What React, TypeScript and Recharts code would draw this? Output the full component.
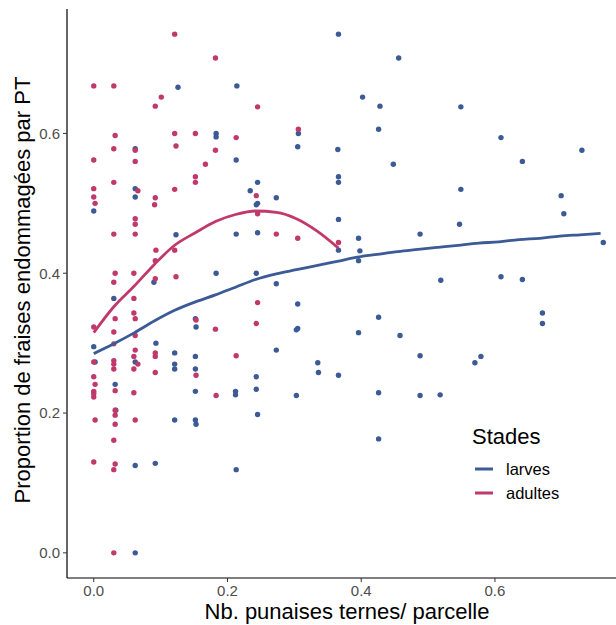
import React from 'react'
import { ComposedChart, Scatter, XAxis, YAxis } from 'recharts'

const BLUE = '#3B5A96'
const PINK = '#C1386B'
const FONT = '"Liberation Sans", Arial, sans-serif'

const X_TICKS = [0, 0.2, 0.4, 0.6]
const Y_TICKS = [0, 0.2, 0.4, 0.6]

// larves: nb. punaises / parcelle vs proportion endommagée
const larvesX = [
  0.126, 0.214, 0.183, 0.183, 0.062, 0.213, 0.062, 0.062, 0, 0.123,
  0.213, 0.183, 0.09, 0.03, 0.152, 0.153, 0, 0.093, 0.121, 0.152,
  0.002, 0.062, 0.121, 0.121, 0.152, 0.032, 0.152, 0.212, 0.212, 0.033,
  0.121, 0.152, 0.153, 0.062, 0.092, 0.213, 0.062, 0.366, 0.456, 0.402,
  0.428, 0.426, 0.306, 0.305, 0.365, 0.448, 0.366, 0.366, 0.245, 0.234,
  0.273, 0.243, 0.245, 0.366, 0.245, 0.396, 0.398, 0.366, 0.396, 0.488,
  0.243, 0.273, 0.305, 0.305, 0.303, 0.426, 0.396, 0.458, 0.273, 0.488,
  0.335, 0.336, 0.366, 0.243, 0.243, 0.303, 0.426, 0.488, 0.549, 0.609,
  0.73, 0.641, 0.549, 0.699, 0.703, 0.547, 0.762, 0.519, 0.609, 0.641,
  0.671, 0.671, 0.579, 0.57, 0.518, 0.245, 0.426,
]
const larvesY = [
  0.666, 0.668, 0.6, 0.595, 0.578, 0.562, 0.521, 0.509, 0.489, 0.455,
  0.456, 0.4, 0.387, 0.364, 0.335, 0.323, 0.295, 0.3, 0.286, 0.281,
  0.273, 0.273, 0.27, 0.263, 0.263, 0.241, 0.231, 0.231, 0.226, 0.204,
  0.19, 0.19, 0.184, 0.125, 0.128, 0.119, 0, 0.742, 0.708, 0.652,
  0.639, 0.606, 0.6, 0.581, 0.577, 0.556, 0.538, 0.53, 0.53, 0.518,
  0.508, 0.498, 0.5, 0.477, 0.458, 0.45, 0.432, 0.433, 0.418, 0.456,
  0.4, 0.385, 0.356, 0.321, 0.319, 0.337, 0.315, 0.311, 0.29, 0.282,
  0.272, 0.258, 0.254, 0.252, 0.234, 0.225, 0.229, 0.225, 0.638, 0.594,
  0.576, 0.56, 0.52, 0.511, 0.485, 0.47, 0.444, 0.39, 0.395, 0.391,
  0.343, 0.328, 0.281, 0.272, 0.226, 0.198, 0.163,
]

// adultes
const adultesX = [
  0.121, 0.182, 0, 0.03, 0.101, 0.092, 0.032, 0.03, 0.062, 0.121,
  0.152, 0.213, 0.123, 0.182, 0, 0.062, 0.167, 0.152, 0.152, 0.03,
  0, 0.066, 0.121, 0, 0.092, 0.002, 0.091, 0.03, 0.062, 0.062,
  0.062, 0.093, 0.121, 0.092, 0.032, 0.06, 0.092, 0.03, 0.123, 0.06,
  0.032, 0.06, 0.062, 0.153, 0.182, 0, 0.03, 0.062, 0.03, 0.062,
  0.06, 0.092, 0.092, 0.213, 0, 0.066, 0.03, 0.03, 0.03, 0.06,
  0.153, 0.092, 0, 0.002, 0, 0, 0, 0.032, 0.06, 0.183,
  0.032, 0.032, 0.002, 0.032, 0.062, 0.03, 0, 0.032, 0.03, 0.03,
  0.245, 0.306, 0.243, 0.245, 0.273, 0.305, 0.366, 0.245, 0.243,
]
const adultesY = [
  0.742, 0.708, 0.668, 0.668, 0.652, 0.639, 0.597, 0.578, 0.576, 0.6,
  0.6, 0.594, 0.582, 0.576, 0.562, 0.56, 0.556, 0.538, 0.53, 0.53,
  0.521, 0.518, 0.52, 0.509, 0.508, 0.5, 0.498, 0.456, 0.478, 0.47,
  0.456, 0.433, 0.433, 0.418, 0.4, 0.4, 0.392, 0.387, 0.395, 0.364,
  0.335, 0.343, 0.335, 0.333, 0.32, 0.323, 0.316, 0.311, 0.299, 0.29,
  0.281, 0.286, 0.281, 0.282, 0.273, 0.27, 0.275, 0.27, 0.263, 0.263,
  0.254, 0.258, 0.252, 0.241, 0.231, 0.228, 0.223, 0.232, 0.229, 0.225,
  0.204, 0.197, 0.19, 0.184, 0.19, 0.161, 0.13, 0.127, 0.119, 0,
  0.638, 0.606, 0.511, 0.485, 0.456, 0.45, 0.444, 0.358, 0.328,
]

// lissage (loess) par stade
const larvesFitX = [
  0, 0.03, 0.061, 0.091, 0.121, 0.152, 0.182, 0.212, 0.242, 0.273, 0.303, 0.333, 0.364,
  0.394, 0.424, 0.455, 0.485, 0.515, 0.545, 0.576, 0.606, 0.636, 0.667, 0.697, 0.727, 0.758,
]
const larvesFitY = [
  0.285, 0.299, 0.315, 0.332, 0.347, 0.359, 0.369, 0.38, 0.391, 0.399, 0.405, 0.411, 0.417,
  0.423, 0.427, 0.431, 0.434, 0.437, 0.44, 0.443, 0.445, 0.448, 0.45, 0.453, 0.455, 0.457,
]
const adultesFitX = [0, 0.03, 0.061, 0.091, 0.121, 0.152, 0.182, 0.212, 0.242, 0.273, 0.303, 0.333, 0.366]
const adultesFitY = [0.315, 0.352, 0.382, 0.413, 0.44, 0.458, 0.474, 0.484, 0.489, 0.487, 0.478, 0.461, 0.436]

const zip = (xs: number[], ys: number[]) => xs.map((x, i) => ({ x, y: ys[i] }))

const larves = zip(larvesX, larvesY)
const adultes = zip(adultesX, adultesY)
const larvesFit = zip(larvesFitX, larvesFitY)
const adultesFit = zip(adultesFitX, adultesFitY)

const dot = (color: string) => (p: any) => <circle cx={p.cx} cy={p.cy} r={2.7} fill={color} />
const noDot = () => <g />

const tickStyle = { fontSize: 15, fill: '#4D4D4D', fontFamily: FONT }

export default function App() {
  return (
    <div style={{ position: 'absolute', left: 0, top: 0, width: 616, height: 625, background: '#fff', overflow: 'hidden' }}>
      <ComposedChart width={616} height={625} margin={{ top: 9, right: 0, bottom: 0, left: 0 }}>
        <XAxis
          type="number"
          dataKey="x"
          domain={[-0.04, 0.781]}
          allowDataOverflow
          ticks={X_TICKS}
          tickFormatter={(v: number) => v.toFixed(1)}
          height={47}
          tick={tickStyle}
          tickSize={4}
          tickMargin={3}
          axisLine={{ stroke: '#000', strokeWidth: 1.2 }}
          tickLine={{ stroke: '#333' }}
        />
        <YAxis
          type="number"
          dataKey="y"
          domain={[-0.036, 0.778]}
          allowDataOverflow
          ticks={Y_TICKS}
          tickFormatter={(v: number) => v.toFixed(1)}
          width={67}
          tick={tickStyle}
          tickSize={4}
          tickMargin={3}
          axisLine={{ stroke: '#000', strokeWidth: 1.2 }}
          tickLine={{ stroke: '#333' }}
        />
        <Scatter data={larves} shape={dot(BLUE)} isAnimationActive={false} />
        <Scatter data={adultes} shape={dot(PINK)} isAnimationActive={false} />
        <Scatter
          data={larvesFit}
          shape={noDot}
          line={{ stroke: BLUE, strokeWidth: 2.8 }}
          lineJointType="monotoneX"
          isAnimationActive={false}
        />
        <Scatter
          data={adultesFit}
          shape={noDot}
          line={{ stroke: PINK, strokeWidth: 2.8 }}
          lineJointType="monotoneX"
          isAnimationActive={false}
        />
      </ComposedChart>

      <svg width={616} height={625} style={{ position: 'absolute', left: 0, top: 0, pointerEvents: 'none' }}>
        <text x={347} y={619} textAnchor="middle" fontSize={22} fontFamily={FONT} fill="#000">
          Nb. punaises ternes/ parcelle
        </text>
        <text
          x={30}
          y={290}
          transform="rotate(-90 30 290)"
          textAnchor="middle"
          fontSize={22}
          fontFamily={FONT}
          fill="#000"
        >
          Proportion de fraises endommagées par PT
        </text>

        <text x={472} y={444} fontSize={22} fontFamily={FONT} fill="#000">Stades</text>
        <line x1={475} x2={493} y1={469} y2={469} stroke={BLUE} strokeWidth={3} />
        <text x={506} y={475} fontSize={16.5} fontFamily={FONT} fill="#000">larves</text>
        <line x1={475} x2={493} y1={493} y2={493} stroke={PINK} strokeWidth={3} />
        <text x={506} y={499} fontSize={16.5} fontFamily={FONT} fill="#000">adultes</text>
      </svg>
    </div>
  )
}
